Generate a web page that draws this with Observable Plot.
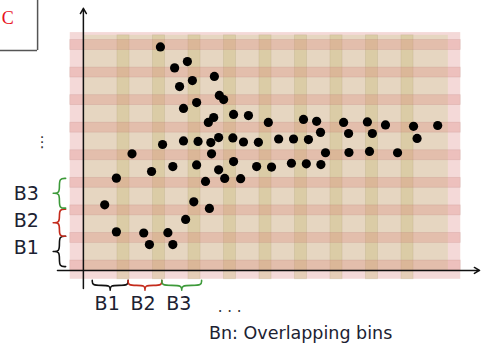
<!DOCTYPE html>
<html>
<head>
<meta charset="utf-8">
<script src="https://cdn.jsdelivr.net/npm/d3@7"></script>
<script src="https://cdn.jsdelivr.net/npm/@observablehq/plot@0.6"></script>
<style>
  html, body { margin: 0; padding: 0; background: #fff; }
  #chart svg { display: block; }
</style>
</head>
<body>
<div id="chart"></div>
<script>
// ---- data (arbitrary units: one x unit = one bin step, one y unit = one bin step) ----
const xOverlaps = [1, 2, 3, 4, 5, 6, 7, 8, 9];      // centres of vertical overlap bands
const yOverlaps = [0, 1, 2, 3, 4, 5, 6, 7, 8];      // centres of horizontal overlap bands
const gridX = [-0.5, 10.5];                          // extent of the binned area
const gridY = [-0.5, 8.45];
const innerX = [-0.13, 10.15];
const innerY = [-0.18, 8.35];
const axisOrigin = [-0.13, -0.18];
const axisEndX = [-0.86, 11.03];
const axisEndY = [-0.83, 9.33];

const pointX = [2.04,2.80,2.44,3.56,2.94,2.58,3.70,3.82,3.06,2.69,
                4.10,4.52,3.54,3.39,5.08,6.07,6.44,7.20,7.87,8.38,
                9.17,9.85,6.55,7.34,8.01,9.27,3.68,4.08,2.69,3.10,
                3.46,4.38,4.80,5.37,5.79,6.21,2.10,1.24,3.48,6.69,
                7.35,7.93,8.72,4.10,3.06,2.39,1.79,3.68,4.75,5.17,
                5.73,6.15,6.56,0.80,3.31,3.85,4.30,0.47,2.98,3.42,
                2.75,0.80,1.57,2.25,1.73,2.39];
const pointY = [7.93,7.40,7.17,6.86,6.71,6.49,6.17,6.02,5.91,5.70,
                5.48,5.44,5.37,5.19,5.19,5.30,5.23,5.19,5.21,5.10,
                5.05,5.08,4.83,4.79,4.79,4.61,4.64,4.63,4.52,4.50,
                4.46,4.48,4.47,4.59,4.59,4.57,4.39,4.05,4.05,4.09,
                4.10,4.14,4.09,3.77,3.65,3.59,3.41,3.47,3.59,3.57,
                3.71,3.69,3.66,3.17,3.05,3.16,3.15,2.20,2.31,2.07,
                1.67,1.22,1.18,1.19,0.76,0.76];

const binLabels = ["B1", "B2", "B3"];
const binColors = ["#111111", "#c42b1c", "#3d9a3a"];
const xBinStart = [0.12, 1.13, 2.08];
const xBinEnd   = [1.13, 2.08, 3.20];
const yBinStart = [-0.04, 1.06, 2.08];
const yBinEnd   = [1.06, 2.04, 3.16];
const xLabelPos = [0.54, 1.55, 2.56];
const yLabelPos = [0.65, 1.63, 2.58];
const caption = "Bn: Overlapping bins";
const panelLetter = "C";

// ---- derived tables ----
const points = pointX.map((x, i) => ({x, y: pointY[i]}));

function hBrace(a, b, yArm, depth) {            // tip pointing down
  const m = (a + b) / 2, yb = yArm - depth * 0.5, yt = yArm - depth;
  return [[a, yArm], [a, yb], [(a + m) / 2, yb], [m, yb], [m, yt], [m, yt], [m, yt],
          [m, yb], [(m + b) / 2, yb], [b, yb], [b, yArm]];
}
function vBrace(a, b, xArm, depth) {            // tip pointing left
  return hBrace(a, b, xArm, depth).map(([u, v]) => [v, u]);
}

const braceMarks = [];
binLabels.forEach((lab, i) => {
  braceMarks.push(Plot.line(hBrace(xBinStart[i], xBinEnd[i], -0.54, 0.36),
    {x: d => d[0], y: d => d[1], curve: "basis", stroke: binColors[i], strokeWidth: 1.6}));
  braceMarks.push(Plot.line(vBrace(yBinStart[i], yBinEnd[i], -0.63, 0.35),
    {x: d => d[0], y: d => d[1], curve: "basis", stroke: binColors[i], strokeWidth: 1.6}));
});

const font = "DejaVu Sans, Liberation Sans, sans-serif";

const chart = Plot.plot({
  width: 482,
  height: 346,
  margin: 0,
  x: {domain: [0, 10], range: [87.5, 442.5], axis: null},
  y: {domain: [0, 8], range: [265, 44.5], axis: null},
  marks: [
    // binned area
    Plot.rect([0], {x1: gridX[0], x2: gridX[1], y1: gridY[0], y2: gridY[1], fill: "#f4d9d8"}),
    Plot.rect([0], {x1: innerX[0], x2: innerX[1], y1: innerY[0], y2: innerY[1], fill: "#e6d6c1"}),
    Plot.rect(xOverlaps, {x1: d => d - 0.17, x2: d => d + 0.17, y1: gridY[0], y2: innerY[1],
      fill: "#bdb562", fillOpacity: 0.28, stroke: "#9a9060", strokeOpacity: 0.2, strokeWidth: 0.8}),
    Plot.rect(yOverlaps, {y1: d => d - 0.18, y2: d => d + 0.18, x1: gridX[0], x2: gridX[1],
      fill: "#db8375", fillOpacity: 0.28, stroke: "#b07070", strokeOpacity: 0.2, strokeWidth: 0.8}),
    // axes
    Plot.arrow([0], {x1: axisOrigin[0], x2: axisOrigin[0], y1: axisEndY[0], y2: axisEndY[1],
      stroke: "#111", strokeWidth: 1.5, headLength: 6}),
    Plot.arrow([0], {y1: axisOrigin[1], y2: axisOrigin[1], x1: axisEndX[0], x2: axisEndX[1],
      stroke: "#111", strokeWidth: 1.5, headLength: 6}),
    // points
    Plot.dot(points, {x: "x", y: "y", r: 4.6, fill: "#000"}),
    // braces
    ...braceMarks,
    // labels
    Plot.text(binLabels, {x: (d, i) => xLabelPos[i], y: -1.40, text: d => d, fontSize: 19,
      fontFamily: font, fill: "#1c2232", textAnchor: "middle", lineAnchor: "middle"}),
    Plot.text(binLabels, {x: -2.09, y: (d, i) => yLabelPos[i], text: d => d, fontSize: 19,
      fontFamily: font, fill: "#1c2232", textAnchor: "start", lineAnchor: "middle"}),
    Plot.text([". . ."], {x: 3.99, y: -1.52, text: d => d, fontSize: 15, fontFamily: font,
      fill: "#333", textAnchor: "middle", lineAnchor: "middle"}),
    Plot.text(["\u22EE"], {x: -1.29, y: 4.46, text: d => d, fontSize: 15, fontFamily: font,
      fill: "#333", textAnchor: "middle", lineAnchor: "middle"}),
    Plot.text([caption], {x: 5.99, y: -2.45, text: d => d, fontSize: 17.5, fontFamily: font,
      fill: "#1c2232", textAnchor: "middle", lineAnchor: "middle"}),
    // panel letter box (cropped at the corner)
    Plot.ruleX([-1.42], {y1: 7.80, y2: 9.8, stroke: "#555", strokeWidth: 1.5}),
    Plot.ruleY([7.80], {x1: -2.6, x2: -1.42, stroke: "#555", strokeWidth: 1.5}),
    Plot.text([panelLetter], {x: -2.43, y: 8.96, text: d => d, fontSize: 18,
      fontFamily: "Liberation Serif, serif", fill: "#e8101a", textAnchor: "start", lineAnchor: "middle"})
  ]
});
document.getElementById("chart").appendChild(chart);
</script>
</body>
</html>
